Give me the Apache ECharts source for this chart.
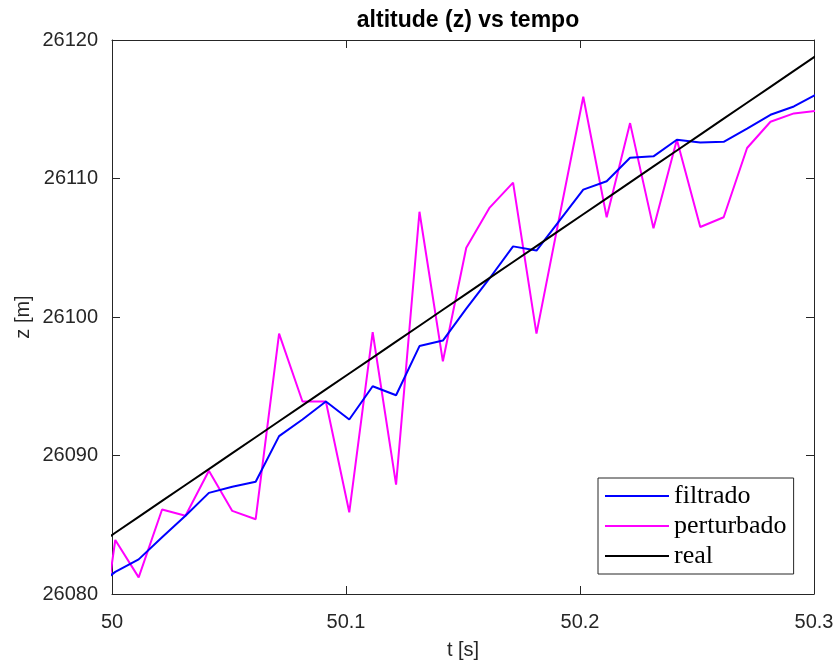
<!DOCTYPE html>
<html>
<head>
<meta charset="utf-8">
<script src="https://cdn.jsdelivr.net/npm/echarts@6/dist/echarts.min.js"></script>
<style>
html,body{margin:0;padding:0;background:#fff;}
#c{width:838px;height:666px;}
</style>
</head>
<body>
<div id="c"></div>
<script>
// time samples [s]
var tempo = [49.9914, 50.0014, 50.0114, 50.0214, 50.0314, 50.0414, 50.0514, 50.0614, 50.0714, 50.0814,
  50.0914, 50.1014, 50.1114, 50.1214, 50.1314, 50.1414, 50.1514, 50.1614, 50.1714, 50.1814,
  50.1914, 50.2014, 50.2114, 50.2214, 50.2314, 50.2414, 50.2514, 50.2614, 50.2714, 50.2814,
  50.2914, 50.3014];
// altitude estimates [m]
var filtrado = [26080.3, 26081.6, 26082.5, 26084.1, 26085.65, 26087.3, 26087.75, 26088.1, 26091.4, 26092.6,
  26093.9, 26092.6, 26095.0, 26094.35, 26097.9, 26098.3, 26100.6, 26102.8, 26105.1, 26104.8,
  26107.0, 26109.2, 26109.8, 26111.5, 26111.6, 26112.8, 26112.6, 26112.65, 26113.6, 26114.6,
  26115.2, 26116.1];
var perturbado = [26072.0, 26083.9, 26081.2, 26086.1, 26085.65, 26088.9, 26086.0, 26085.4, 26098.8, 26093.9,
  26093.9, 26085.9, 26098.9, 26087.9, 26107.6, 26096.8, 26105.0, 26107.9, 26109.7, 26098.8,
  26107.4, 26115.9, 26107.2, 26114.0, 26106.4, 26112.8, 26106.5, 26107.2, 26112.2, 26114.1,
  26114.7, 26114.9];
var real = [26083.27, 26084.42, 26085.57, 26086.72, 26087.87, 26089.02, 26090.17, 26091.32, 26092.47, 26093.62,
  26094.77, 26095.92, 26097.07, 26098.22, 26099.37, 26100.52, 26101.67, 26102.82, 26103.97, 26105.12,
  26106.27, 26107.42, 26108.57, 26109.72, 26110.87, 26112.02, 26113.17, 26114.32, 26115.47, 26116.62,
  26117.77, 26118.92];
var seriesNames = ['filtrado', 'perturbado', 'real'];
var xTicks = [50, 50.1, 50.2, 50.3];
var yTicks = [26080, 26090, 26100, 26110, 26120];

function pairs(ys) { return tempo.map(function (t, i) { return [t, ys[i]]; }); }

var axisCol = '#262626';
var sans = 'Liberation Sans, Arial, sans-serif';
var chart = echarts.init(document.getElementById('c'), null, {renderer: 'canvas'});

function xAx(pos, showLab) {
  return {
    type: 'value', position: pos, min: xTicks[0], max: xTicks[xTicks.length - 1], interval: 0.1,
    name: showLab ? 't [s]' : '', nameLocation: 'middle', nameGap: 46, nameMoveOverlap: false,
    nameTextStyle: {fontFamily: sans, fontSize: 20, color: axisCol},
    axisLine: {show: true, onZero: false, lineStyle: {color: axisCol, width: 1}},
    axisTick: {show: true, inside: true, length: 8, lineStyle: {color: axisCol}},
    axisLabel: {show: showLab, margin: 18, fontFamily: sans, fontSize: 20, color: axisCol,
      formatter: function (v) { return String(parseFloat(v.toFixed(1))); }},
    splitLine: {show: false}
  };
}
function yAx(pos, showLab) {
  return {
    type: 'value', position: pos, min: yTicks[0], max: yTicks[yTicks.length - 1], interval: 10,
    name: showLab ? 'z [m]' : '', nameLocation: 'middle', nameGap: 79, nameRotate: 90, nameMoveOverlap: false,
    nameTextStyle: {fontFamily: sans, fontSize: 20, color: axisCol},
    axisLine: {show: true, onZero: false, lineStyle: {color: axisCol, width: 1}},
    axisTick: {show: true, inside: true, length: 8, lineStyle: {color: axisCol}},
    axisLabel: {show: showLab, margin: 14, fontFamily: sans, fontSize: 20, color: axisCol,
      formatter: function (v) { return String(Math.round(v)); }},
    splitLine: {show: false}
  };
}

var colors = ['#0000ff', '#ff00ff', '#000000'];
var datas = [filtrado, perturbado, real];

chart.setOption({
  animation: false,
  backgroundColor: '#ffffff',
  title: {
    text: 'altitude (z) vs tempo', left: 463, top: 4, textAlign: 'center',
    textStyle: {fontFamily: sans, fontSize: 23, fontWeight: 'bold', color: '#000'}
  },
  grid: {left: 112, right: 24, top: 40, bottom: 72, containLabel: false},
  xAxis: [xAx('bottom', true), xAx('top', false)],
  yAxis: [yAx('left', true), yAx('right', false)],
  legend: {
    data: seriesNames, orient: 'vertical', left: 598, top: 478, icon: 'rect',
    padding: [5, 7, 5, 7], itemGap: 4, itemWidth: 64, itemHeight: 2, itemTextGap: 7,
    borderColor: axisCol, borderWidth: 1, backgroundColor: '#fff',
    textStyle: {fontFamily: 'Liberation Serif, Times New Roman, serif', fontSize: 26, color: '#000', lineHeight: 26}
  },
  series: seriesNames.map(function (n, i) {
    return {
      name: n, type: 'line', data: pairs(datas[i]), xAxisIndex: 0, yAxisIndex: 0,
      symbol: 'none', clip: true, color: colors[i],
      lineStyle: {color: colors[i], width: 2}, z: 2 + (i === 1 ? 0 : i === 0 ? 1 : 2)
    };
  })
});
</script>
</body>
</html>
